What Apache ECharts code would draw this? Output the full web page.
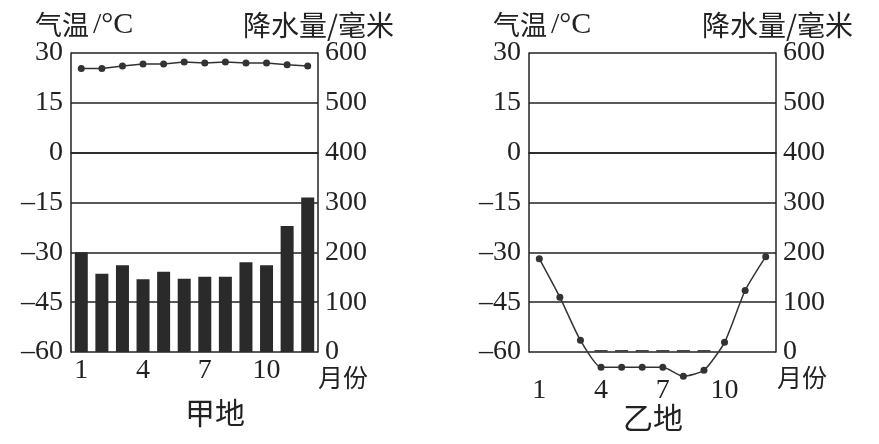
<!DOCTYPE html>
<html><head><meta charset="utf-8">
<script src="https://cdn.jsdelivr.net/npm/echarts@6/dist/echarts.min.js"></script>
<style>html,body{margin:0;padding:0;background:#fff}#c{width:879px;height:444px}</style>
</head><body><div id="c"></div>
<script>
var months = ['1','2','3','4','5','6','7','8','9','10','11','12'];
var tempA = [25.3, 25.3, 26.1, 26.7, 26.7, 27.3, 27.0, 27.3, 27.0, 27.0, 26.5, 26.1];
var precA = [200, 157, 174, 146, 161, 147, 151, 151, 180, 174, 253, 310];
var tempB = [-31.9, -43.5, -56.5, -64.6, -64.6, -64.6, -64.6, -67.3, -65.5, -57.1, -41.5, -31.3];
var precB = [0, 0, 0, 4, 4, 4, 4, 4, 4, 0, 0, 0];
var tempTicks = {min: -60, max: 30, interval: 15};
var precTicks = {min: 0, max: 600, interval: 100};

var serif = '"Liberation Serif", "DejaVu Serif", serif';
var cjk = '"Noto Sans CJK SC", sans-serif';
var ink = '#222';

function fmtT(v){ return v < 0 ? '\u2013' + Math.abs(v) : String(v); }

function xAx(gi, margin){
  return {gridIndex: gi, type: 'category', data: months, boundaryGap: true,
    axisLine: {show: true, lineStyle: {color: ink, width: 1.5}},
    axisTick: {show: false},
    axisLabel: {interval: 2, margin: margin, color: ink, fontFamily: serif, fontSize: 28}};
}
function yT(gi){
  return {gridIndex: gi, type: 'value', position: 'left', min: tempTicks.min, max: tempTicks.max, interval: tempTicks.interval,
    axisLine: {show: true, lineStyle: {color: ink, width: 1.5}},
    axisTick: {show: false},
    splitLine: {show: true, lineStyle: {color: ink, width: 1.5}},
    axisLabel: {margin: 8, color: ink, fontFamily: serif, fontSize: 28, formatter: fmtT}};
}
function yP(gi){
  return {gridIndex: gi, type: 'value', position: 'right', min: precTicks.min, max: precTicks.max, interval: precTicks.interval,
    axisLine: {show: true, lineStyle: {color: ink, width: 1.5}},
    axisTick: {show: false},
    splitLine: {show: false},
    axisLabel: {margin: 7, color: ink, fontFamily: serif, fontSize: 28}};
}
function txt(t, x, y, size){
  return {type: 'text', x: x, y: y, style: {text: t, fontFamily: cjk, fontSize: size, fill: ink, textAlign: 'left', textVerticalAlign: 'middle'}};
}
function tempTitle(x){
  return {type: 'text', x: x, y: 25, style: {
    text: '{a|气温}{b|/°C}', textVerticalAlign: 'middle', fill: ink,
    rich: {a: {fontFamily: cjk, fontSize: 27, fill: ink}, b: {fontFamily: serif, fontSize: 30, fill: ink, padding: [0, 0, 0, 4]}}}};
}

var option = {
  animation: false,
  backgroundColor: '#fff',
  grid: [
    {left: 71, top: 53, width: 247, height: 299},
    {left: 529, top: 53, width: 247, height: 299}
  ],
  xAxis: [xAx(0, 5), xAx(1, 25)],
  yAxis: [yT(0), yP(0), yT(1), yP(1)],
  series: [
    {type: 'bar', xAxisIndex: 0, yAxisIndex: 1, data: precA, barWidth: 13, itemStyle: {color: '#2a2a2a'}},
    {type: 'line', xAxisIndex: 0, yAxisIndex: 0, data: tempA, symbol: 'circle', symbolSize: 7,
      lineStyle: {color: '#333', width: 1.5}, itemStyle: {color: '#333'}, clip: false, z: 5},
    {type: 'bar', xAxisIndex: 1, yAxisIndex: 3, data: precB, barWidth: 13, itemStyle: {color: '#444'}},
    {type: 'line', xAxisIndex: 1, yAxisIndex: 2, data: tempB, symbol: 'circle', symbolSize: 7, smooth: 0.2,
      lineStyle: {color: '#333', width: 1.5}, itemStyle: {color: '#333'}, clip: false, z: 5}
  ],
  graphic: [
    tempTitle(35),
    txt('降水量/毫米', 243, 25, 28),
    txt('月份', 318, 377, 25),
    txt('甲地', 185, 413, 30),
    tempTitle(493),
    txt('降水量/毫米', 702, 25, 28),
    txt('月份', 777, 377, 25),
    txt('乙地', 623, 418, 30)
  ]
};
echarts.init(document.getElementById('c')).setOption(option);
</script></body></html>
